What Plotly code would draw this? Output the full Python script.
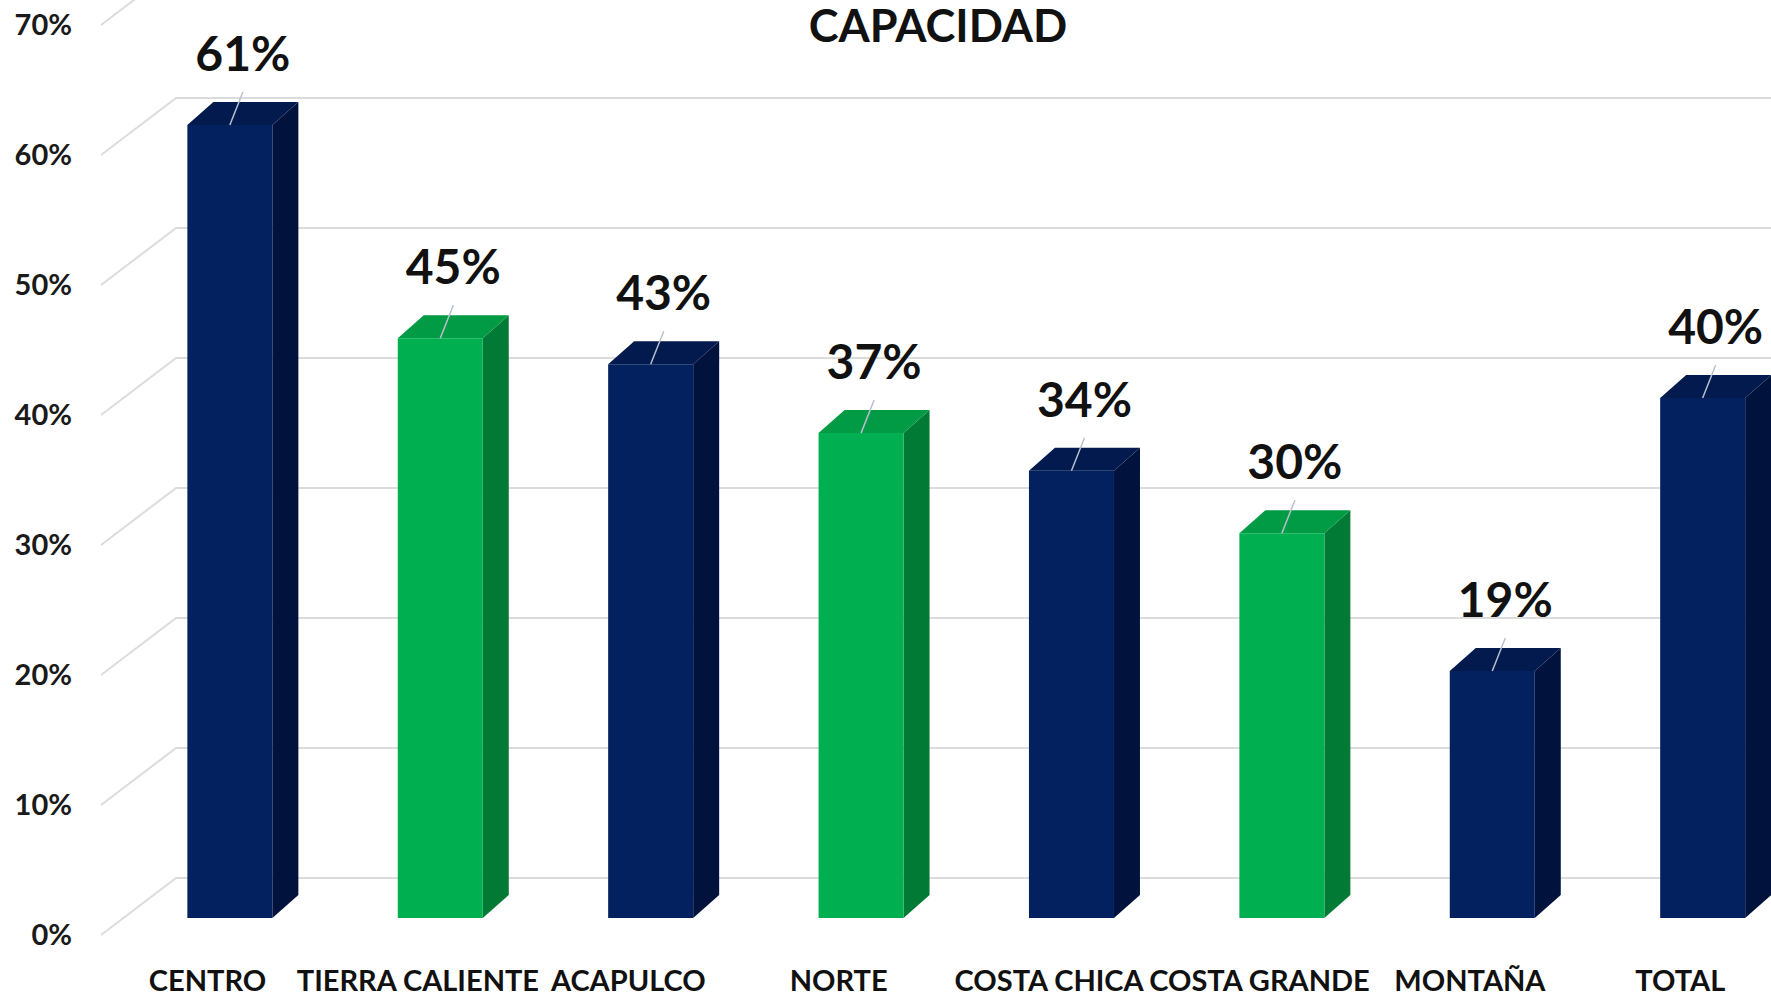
import plotly.graph_objects as go

# ---------------- data ----------------
categories = ["CENTRO", "TIERRA CALIENTE", "ACAPULCO", "NORTE",
              "COSTA CHICA", "COSTA GRANDE", "MONTAÑA", "TOTAL"]
values = [61.0, 44.6, 42.6, 37.3, 34.4, 29.6, 19.0, 40.0]
bar_color_keys = ["navy", "green", "navy", "green", "navy", "green", "navy", "navy"]
y_tick_values = [0, 10, 20, 30, 40, 50, 60, 70]
y_tick_labels = ["0%", "10%", "20%", "30%", "40%", "50%", "60%", "70%"]
title_text = "CAPACIDAD"

# ---------------- style ----------------
palette = {
    "navy": {"front": "#02215E", "top": "#021A4E", "side": "#01133D"},
    "green": {"front": "#00B050", "top": "#019A45", "side": "#017A36"},
}
FONT = "Lato"
GRID = "#DCDCDC"

# 3-D geometry (axis units: x = category slots, y = percent)
WALL_DX, WALL_DY = 0.3565, 4.385      # floor depth (front edge -> back wall)
BAR_FRONT_FRAC = 0.298                # bar front face position in depth
BAR_W = 0.404                         # width of bar front face
BAR_DX, BAR_DY = 0.1236, 1.77         # bar depth offset
LEFT_EDGE = -0.506                    # left front edge of floor
X_RANGE = [-0.587, 7.431]
Y_RANGE = [-2.0, 71.923]
LABEL_GAP = 5.1                       # data label above front-top edge
LEADER_DX, LEADER_DY = 0.062, 2.54

fig = go.Figure()

# gridlines: side-wall diagonals + back-wall horizontals
for t in y_tick_values:
    fig.add_trace(go.Scatter(
        x=[LEFT_EDGE, LEFT_EDGE + WALL_DX, X_RANGE[1] + 1],
        y=[t, t + WALL_DY, t + WALL_DY],
        mode="lines", line=dict(color=GRID, width=2),
        hoverinfo="skip", showlegend=False))

fx0 = BAR_FRONT_FRAC * WALL_DX
fy0 = BAR_FRONT_FRAC * WALL_DY

for i, (cat, v, key) in enumerate(zip(categories, values, bar_color_keys)):
    c = i + fx0
    xl, xr = c - BAR_W / 2, c + BAR_W / 2
    yb, yt = fy0, fy0 + v
    col = palette[key]
    # side face
    fig.add_trace(go.Scatter(
        x=[xr, xr, xr + BAR_DX, xr + BAR_DX, xr],
        y=[yb, yt, yt + BAR_DY, yb + BAR_DY, yb],
        mode="lines", fill="toself", fillcolor=col["side"],
        line=dict(width=0, color=col["side"]), hoverinfo="skip", showlegend=False))
    # top face
    fig.add_trace(go.Scatter(
        x=[xl, xr, xr + BAR_DX, xl + BAR_DX, xl],
        y=[yt, yt, yt + BAR_DY, yt + BAR_DY, yt],
        mode="lines", fill="toself", fillcolor=col["top"],
        line=dict(width=0, color=col["top"]), hoverinfo="skip", showlegend=False))
    # front face
    fig.add_trace(go.Scatter(
        x=[xl, xr, xr, xl, xl],
        y=[yb, yb, yt, yt, yb],
        mode="lines", fill="toself", fillcolor=col["front"],
        line=dict(width=0, color=col["front"]),
        name=cat, hovertemplate=f"{cat}: {round(v)}%<extra></extra>", showlegend=False))
    # leader line
    fig.add_trace(go.Scatter(
        x=[c, c + LEADER_DX], y=[yt, yt + LEADER_DY],
        mode="lines", line=dict(color="#B8C0CE", width=1.5),
        hoverinfo="skip", showlegend=False))
    # data label
    fig.add_trace(go.Scatter(
        x=[c + BAR_DX / 2], y=[yt + LABEL_GAP],
        mode="text", text=[f"{round(v)}%"],
        textposition="middle center",
        textfont=dict(family=FONT, size=48, color="#111111", weight=700),
        hoverinfo="skip", showlegend=False))

fig.update_layout(
    width=1771, height=996,
    margin=dict(l=84, r=0, t=0, b=35),
    paper_bgcolor="white", plot_bgcolor="white",
    showlegend=False,
    title=dict(text=title_text, x=938 / 1771, xanchor="center",
               y=1 - 26 / 996, yanchor="middle", xref="container", yref="container",
               font=dict(family=FONT, size=45, color="#111111", weight=700)),
    xaxis=dict(range=X_RANGE, tickmode="array",
               tickvals=list(range(len(categories))), ticktext=categories,
               tickfont=dict(family=FONT, size=29, color="#111111", weight=700),
               showgrid=False, zeroline=False, showline=False, ticks="",
               automargin=False, fixedrange=True),
    yaxis=dict(range=Y_RANGE, tickmode="array",
               tickvals=y_tick_values, ticktext=y_tick_labels,
               tickfont=dict(family=FONT, size=29, color="#1A1A1A", weight=700),
               showgrid=False, zeroline=False, showline=False, ticks="",
               ticklabelstandoff=11, automargin=False, fixedrange=True),
)

fig.write_html(
    "out.html",
    config={"displayModeBar": False},
    post_script="document.body.style.margin='0';document.body.style.padding='0';"
                "document.body.style.overflow='hidden';",
)
